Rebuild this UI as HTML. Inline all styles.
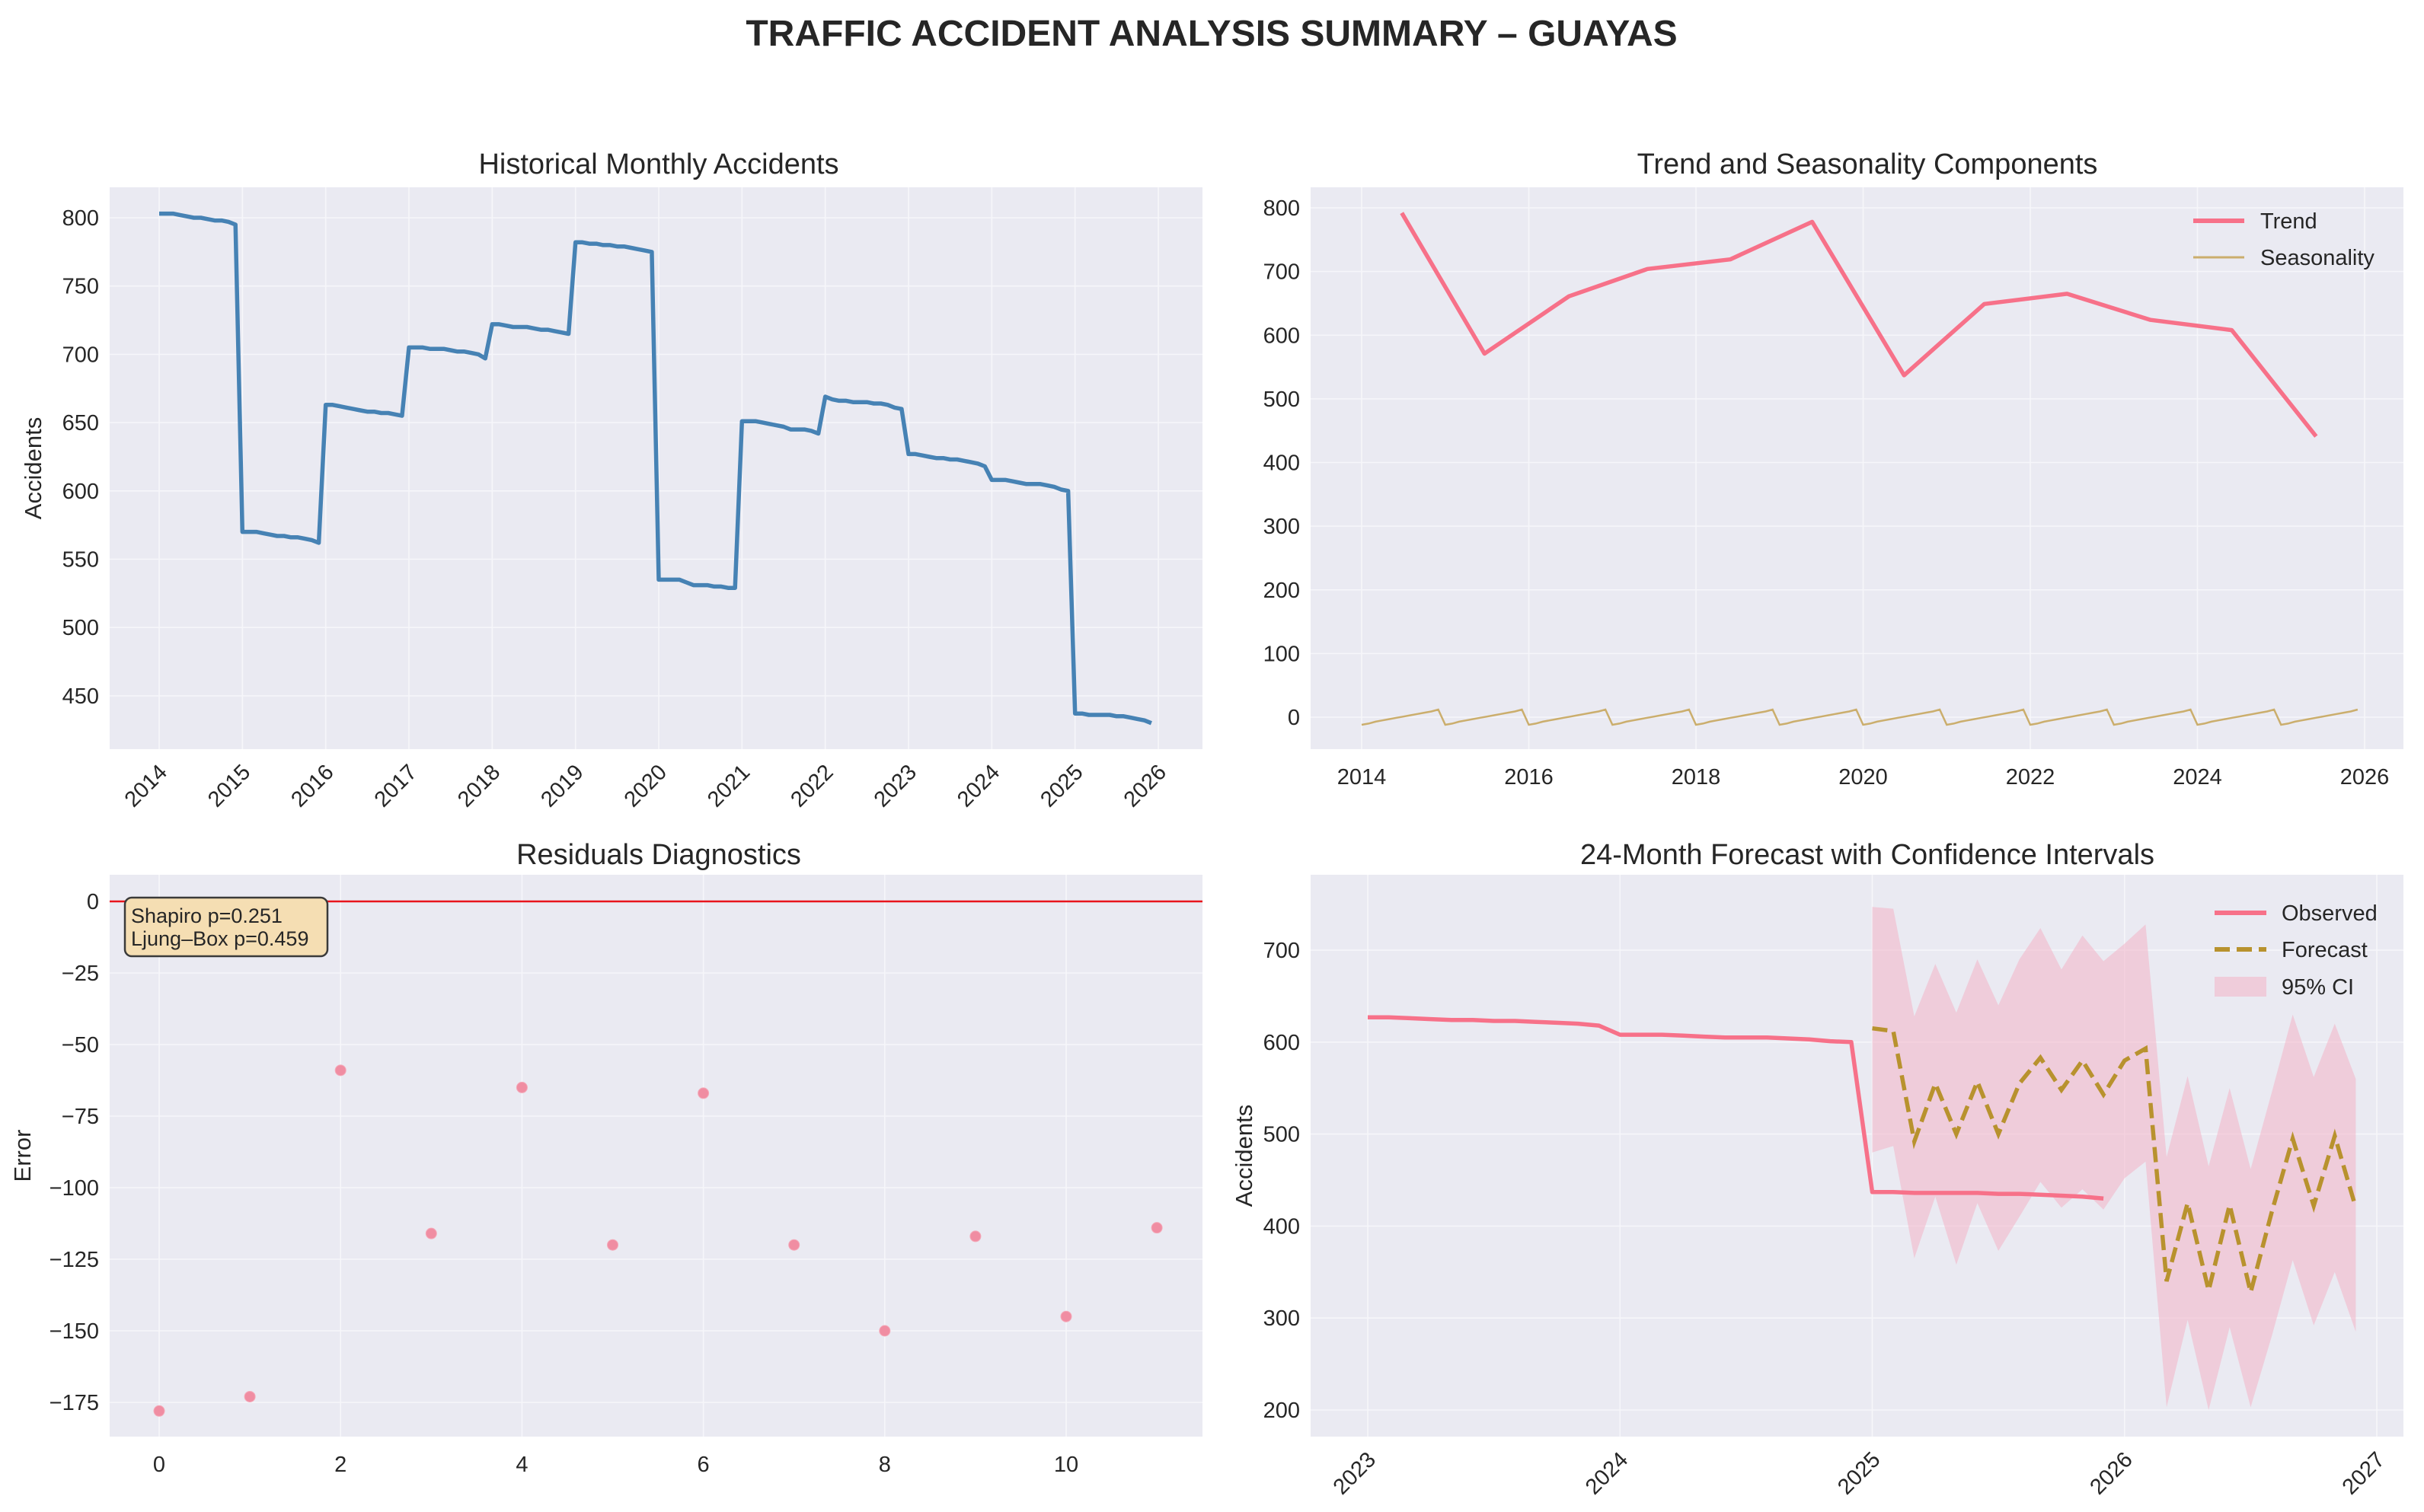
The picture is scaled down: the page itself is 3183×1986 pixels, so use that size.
<!DOCTYPE html>
<html><head><meta charset="utf-8">
<style>
html,body{margin:0;padding:0;background:#fff;}
svg{display:block;font-family:"Liberation Sans",Arial,sans-serif;}
</style></head>
<body>
<svg id="chart" width="3183" height="1986" viewBox="0 0 3183 1986" xmlns="http://www.w3.org/2000/svg">
<rect width="3183" height="1986" fill="#ffffff"/>
<text x="1591" y="60" text-anchor="middle" font-size="48" font-weight="bold" fill="#262626">TRAFFIC ACCIDENT ANALYSIS SUMMARY – GUAYAS</text>
</svg>
<script>
// ---------- data ----------
const histYears = [2014,2015,2016,2017,2018,2019,2020,2021,2022,2023,2024,2025];
const hist2014 = [803,803,803,802,801,800,800,799,798,798,797,795];
const hist2015 = [570,570,570,569,568,567,567,566,566,565,564,562];
const hist2016 = [663,663,662,661,660,659,658,658,657,657,656,655];
const hist2017 = [705,705,705,704,704,704,703,702,702,701,700,697];
const hist2018 = [722,722,721,720,720,720,719,718,718,717,716,715];
const hist2019 = [782,782,781,781,780,780,779,779,778,777,776,775];
const hist2020 = [535,535,535,535,533,531,531,531,530,530,529,529];
const hist2021 = [651,651,651,650,649,648,647,645,645,645,644,642];
const hist2022 = [669,667,666,666,665,665,665,664,664,663,661,660];
const hist2023 = [627,627,626,625,624,624,623,623,622,621,620,618];
const hist2024 = [608,608,608,607,606,605,605,605,604,603,601,600];
const hist2025 = [437,437,436,436,436,436,435,435,434,433,432,430];
const histByYear = [hist2014,hist2015,hist2016,hist2017,hist2018,hist2019,hist2020,hist2021,hist2022,hist2023,hist2024,hist2025];

const trendDates = [2014.48,2015.47,2016.48,2017.42,2018.41,2019.39,2020.49,2021.45,2022.44,2023.44,2024.41,2025.42];
const trendValues = [792,571,661,704,719,778,537,649,665,624,608,441];
const seasonalMonthly = [-12,-10,-7,-5,-3,-1,1,3,5,7,9,12];

const residIndex = [0,1,2,3,4,5,6,7,8,9,10,11];
const residValues = [-178,-173,-59,-116,-65,-120,-67,-120,-150,-117,-145,-114];

const forecastValues = [615,612,492,555,500,557,500,555,583,548,580,543,580,593,340,425,330,423,328,415,495,422,498,420];
const ciUpper = [747,745,628,685,632,690,640,690,724,679,716,688,707,728,475,563,465,550,462,545,630,562,620,560];
const ciLower = [480,487,365,432,358,425,373,410,448,420,440,418,452,470,203,298,200,290,203,280,363,292,350,285];

const tlYTicks = [450,500,550,600,650,700,750,800];
const tlXTicks = [2014,2015,2016,2017,2018,2019,2020,2021,2022,2023,2024,2025,2026];
const trYTicks = [0,100,200,300,400,500,600,700,800];
const trXTicks = [2014,2016,2018,2020,2022,2024,2026];
const blYTicks = [0,-25,-50,-75,-100,-125,-150,-175];
const blXTicks = [0,2,4,6,8,10];
const brYTicks = [200,300,400,500,600,700];
const brXTicks = [2023,2024,2025,2026,2027];

// ---------- helpers ----------
const svg = document.getElementById('chart');
const NS = 'http://www.w3.org/2000/svg';
const TICK_FS = 29;
function mk(tag, attrs, parent){
  const e = document.createElementNS(NS, tag);
  for (const k in attrs) e.setAttribute(k, attrs[k]);
  (parent||svg).appendChild(e);
  return e;
}
function linScale(d0,d1,r0,r1){ return v => r0 + (v-d0)*(r1-r0)/(d1-d0); }
function panel(name, L, T, R, B){
  const g = mk('g', {});
  
  
  const bg = mk('rect', {x:L, y:T, width:R-L, height:B-T, fill:'#eaeaf2'}, g);
  
  
  return g;
}
function gridAndTicks(g, L,T,R,B, xs, ys, xTicks, yTicks, xRot){
  yTicks.forEach(v => {
    const y = ys(v);
    const ln = mk('line', {x1:L, x2:R, y1:y, y2:y, stroke:'#f6f6fa', 'stroke-width':1.6}, g);
    
    
    const t = mk('text', {x:L-14, y:y+10, 'text-anchor':'end', 'font-size':TICK_FS, fill:'#262626'}, g);
    
    
    t.textContent = (v<0 ? '−'+Math.abs(v) : v);
  });
  xTicks.forEach(v => {
    const x = xs(v);
    const ln = mk('line', {x1:x, x2:x, y1:T, y2:B, stroke:'#f6f6fa', 'stroke-width':1.6}, g);
    
    
    let t;
    if (xRot){
      t = mk('text', {x:x+12, y:B+32, 'text-anchor':'end', 'font-size':TICK_FS, fill:'#262626', transform:'rotate(-45 '+(x+12)+' '+(B+32)+')'}, g);
    } else {
      t = mk('text', {x:x, y:B+46, 'text-anchor':'middle', 'font-size':TICK_FS, fill:'#262626'}, g);
    }
    
    
    t.textContent = v;
  });
}
function title(g, text, cx, y){
  const t = mk('text', {x:cx, y:y, 'text-anchor':'middle', 'font-size':38, fill:'#262626'}, g);
  
  
  t.textContent = text;
}
function ylabel(g, text, x, cy){
  const t = mk('text', {x:x, y:cy, 'text-anchor':'middle', 'font-size':31, fill:'#262626', transform:'rotate(-90 '+x+' '+cy+')'}, g);
  
  
  t.textContent = text;
}
function pathFrom(pts){ return pts.map((p,i)=>(i?'L':'M')+p[0].toFixed(1)+' '+p[1].toFixed(1)).join(' '); }

// ---------- panel 1: historical ----------
(function(){
  const L=144,T=246,R=1579,B=984;
  const g = panel('historical-panel', L,T,R,B);
  const xs = linScale(2014,2026,209,1521);
  const ys = linScale(800,750,286,375.7);
  gridAndTicks(g,L,T,R,B,xs,ys,tlXTicks,tlYTicks,true);
  const pts = [];
  histYears.forEach((yr,i)=>histByYear[i].forEach((v,m)=>pts.push([xs(yr+m/12), ys(v)])));
  const p = mk('path', {d:pathFrom(pts), fill:'none', stroke:'#4682b4', 'stroke-width':5.5, 'stroke-linejoin':'round'}, g);
  
  
  title(g, 'Historical Monthly Accidents', 865, 228);
  ylabel(g, 'Accidents', 54, 615);
})();

// ---------- panel 2: trend & seasonality ----------
(function(){
  const L=1721,T=246,R=3156,B=984;
  const g = panel('decomposition-panel', L,T,R,B);
  const xs = linScale(2014,2026,1788,3105);
  const ys = linScale(0,800,942,273);
  gridAndTicks(g,L,T,R,B,xs,ys,trXTicks,trYTicks,false);
  const sp = [];
  histYears.forEach(yr=>seasonalMonthly.forEach((v,m)=>sp.push([xs(yr+m/12), ys(v)])));
  const s = mk('path', {d:pathFrom(sp), fill:'none', stroke:'#cbae6d', 'stroke-width':2.5}, g);
  
  
  const tp = trendDates.map((d,i)=>[xs(d), ys(trendValues[i])]);
  const t = mk('path', {d:pathFrom(tp), fill:'none', stroke:'#f77189', 'stroke-width':5.5, 'stroke-linejoin':'round'}, g);
  
  
  title(g, 'Trend and Seasonality Components', 2452, 228);
  const lg = mk('g', {}, g);
  
  
  const l1 = mk('line', {x1:2880, x2:2947, y1:290, y2:290, stroke:'#f77189', 'stroke-width':6}, lg);
   
  const t1 = mk('text', {x:2968, y:300, 'font-size':29, fill:'#262626'}, lg); t1.textContent='Trend';
   
  const l2 = mk('line', {x1:2880, x2:2947, y1:338, y2:338, stroke:'#cbae6d', 'stroke-width':3}, lg);
   
  const t2 = mk('text', {x:2968, y:348, 'font-size':29, fill:'#262626'}, lg); t2.textContent='Seasonality';
   
})();

// ---------- panel 3: residuals ----------
(function(){
  const L=144,T=1149,R=1579,B=1887;
  const g = panel('residuals-panel', L,T,R,B);
  const xs = linScale(0,10,209,1400);
  const ys = linScale(0,-25,1184,1278);
  gridAndTicks(g,L,T,R,B,xs,ys,blXTicks,blYTicks,false);
  const z = mk('line', {x1:L, x2:R, y1:ys(0), y2:ys(0), stroke:'#e8141c', 'stroke-width':2.5}, g);
   
  residIndex.forEach((ix,i)=>{
    const c = mk('circle', {cx:xs(ix), cy:ys(residValues[i]), r:7, fill:'#f08da2', stroke:'#f4a8b8', 'stroke-width':1}, g);
    
    
  });
  const box = mk('rect', {x:164, y:1179, width:266, height:77, rx:9, fill:'#f5deb3', stroke:'#3a3a3a', 'stroke-width':2.5}, g);
   
  const a1 = mk('text', {x:172, y:1212, 'font-size':27, fill:'#262626'}, g); a1.textContent='Shapiro p=0.251';
   
  const a2 = mk('text', {x:172, y:1242, 'font-size':27, fill:'#262626'}, g); a2.textContent='Ljung–Box p=0.459';
   
  title(g, 'Residuals Diagnostics', 865, 1135);
  ylabel(g, 'Error', 40, 1518);
})();

// ---------- panel 4: forecast ----------
(function(){
  const L=1721,T=1149,R=3156,B=1887;
  const g = panel('forecast-panel', L,T,R,B);
  const xs = linScale(2023,2027,1796,3121);
  const ys = linScale(200,700,1852,1248);
  gridAndTicks(g,L,T,R,B,xs,ys,brXTicks,brYTicks,true);
  const fx = forecastValues.map((v,i)=>xs(2025+i/12));
  const band = fx.map((x,i)=>[x, ys(ciUpper[i])]).concat(fx.map((x,i)=>[x, ys(ciLower[i])]).reverse());
  const ci = mk('path', {d:pathFrom(band)+' Z', fill:'#f2b3c6', 'fill-opacity':0.55, stroke:'none'}, g);
   
  const op = [];
  [9,10,11].forEach(i=>histByYear[i].forEach((v,m)=>op.push([xs(histYears[i]+m/12), ys(v)])));
  const o = mk('path', {d:pathFrom(op), fill:'none', stroke:'#f77189', 'stroke-width':5.5, 'stroke-linejoin':'round'}, g);
   
  const fp = fx.map((x,i)=>[x, ys(forecastValues[i])]);
  const f = mk('path', {d:pathFrom(fp), fill:'none', stroke:'#b8922e', 'stroke-width':5.5, 'stroke-dasharray':'20 9'}, g);
   
  title(g, '24-Month Forecast with Confidence Intervals', 2452, 1135);
  ylabel(g, 'Accidents', 1644, 1518);
  const lg = mk('g', {}, g);
   
  const l1 = mk('line', {x1:2908, x2:2976, y1:1199, y2:1199, stroke:'#f77189', 'stroke-width':6}, lg);
   
  const t1 = mk('text', {x:2996, y:1209, 'font-size':29, fill:'#262626'}, lg); t1.textContent='Observed';
   
  const l2 = mk('line', {x1:2908, x2:2976, y1:1247, y2:1247, stroke:'#b8922e', 'stroke-width':6, 'stroke-dasharray':'20 9'}, lg);
   
  const t2 = mk('text', {x:2996, y:1257, 'font-size':29, fill:'#262626'}, lg); t2.textContent='Forecast';
   
  const l3 = mk('rect', {x:2908, y:1283, width:68, height:26, fill:'#f2b3c6', 'fill-opacity':0.55}, lg);
   
  const t3 = mk('text', {x:2996, y:1306, 'font-size':29, fill:'#262626'}, lg); t3.textContent='95% CI';
   
})();
</script>
</body></html>
